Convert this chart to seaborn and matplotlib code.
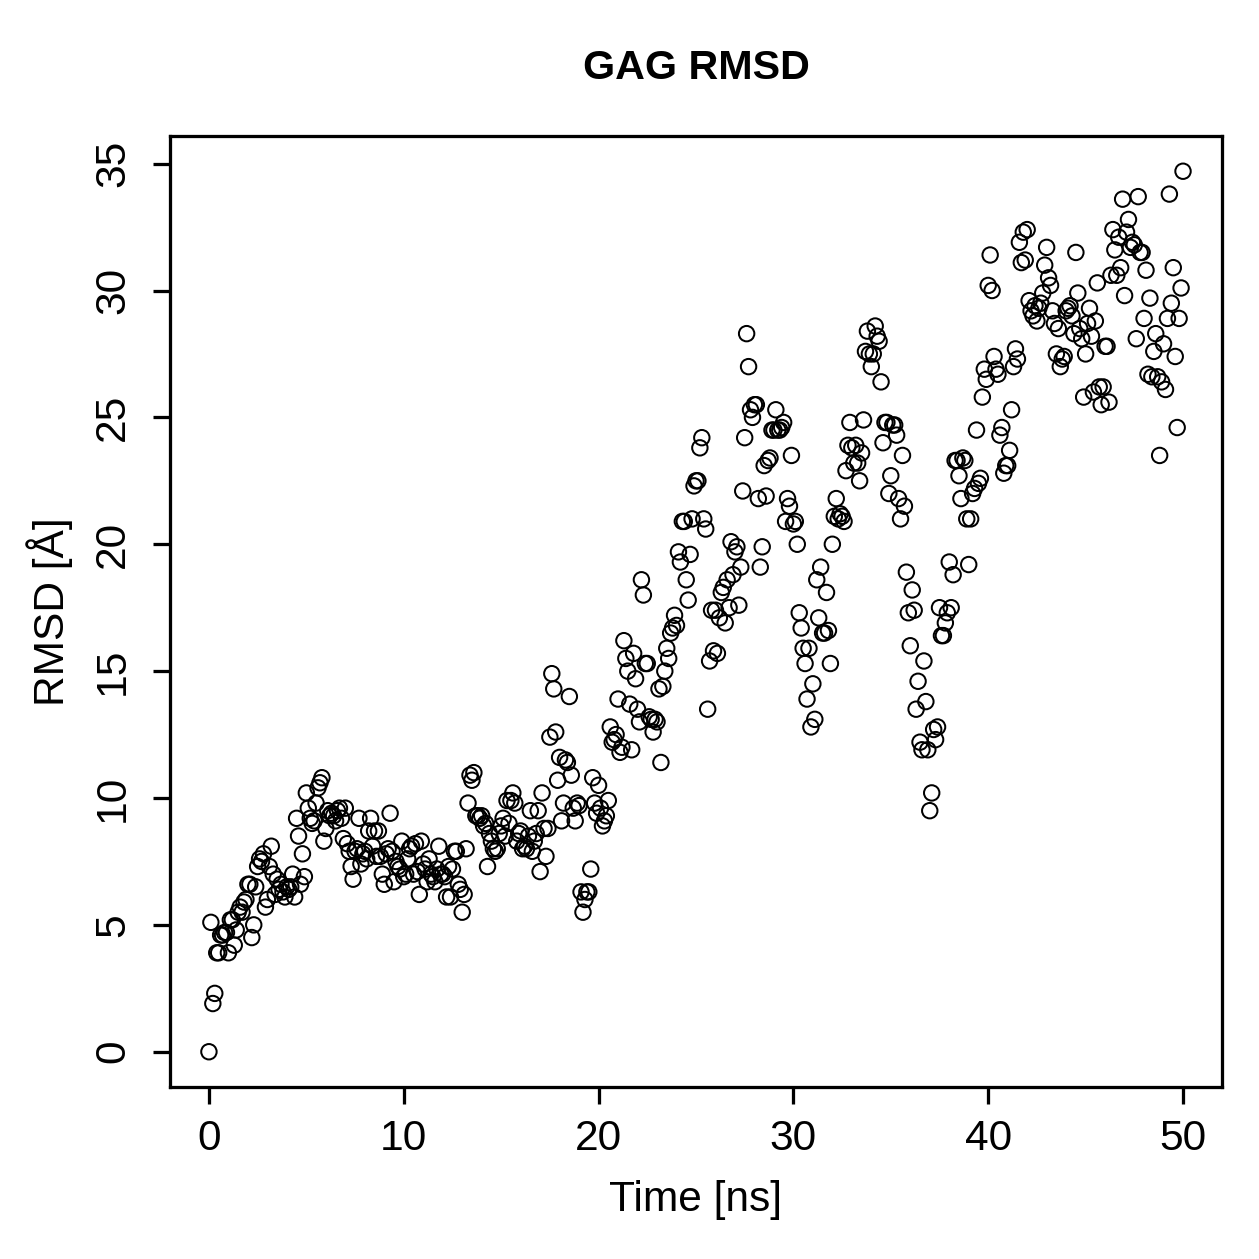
import numpy as np
import pandas as pd
import matplotlib.pyplot as plt
import seaborn as sns

# RMSD values (Angstrom), one frame every 0.1 ns
rmsd_00_10 = [
    0.0, 5.1, 1.9, 2.3, 3.9, 3.9, 4.6, 4.6, 4.7, 4.7,
    3.9, 5.2, 5.2, 4.2, 4.8, 5.5, 5.7, 5.5, 5.9, 6.0,
    6.6, 6.6, 4.5, 5.0, 6.5, 7.3, 7.6, 7.5, 7.8, 5.7,
    6.0, 7.3, 8.1, 7.0, 6.2, 6.8, 6.4, 6.6, 6.3, 6.1,
    6.5, 6.4, 6.5, 7.0, 6.1, 9.2, 8.5, 6.6, 7.8, 6.9,
    10.2, 9.6, 9.2, 9.0, 9.1, 9.8, 10.4, 10.6, 10.8, 8.3,
    8.8, 9.5, 9.3, 9.4, 9.3, 9.1, 9.5, 9.6, 9.2, 8.4,
    9.6, 8.2, 7.9, 7.3, 6.8, 7.9, 8.0, 9.2, 7.4, 7.8,
    7.9, 7.6, 8.7, 9.2, 8.1, 8.7, 7.7, 8.7, 7.7, 7.0,
    6.6, 7.8, 8.0, 9.4, 7.9, 6.7, 7.5, 7.3, 7.2, 8.3,
]
rmsd_10_20 = [
    6.9, 7.0, 7.6, 8.0, 8.1, 7.0, 8.2, 7.1, 6.2, 8.3,
    7.4, 7.2, 6.7, 7.6, 7.0, 6.9, 6.7, 7.2, 8.1, 7.0,
    7.0, 6.9, 6.1, 7.3, 6.1, 7.2, 7.9, 7.9, 6.6, 6.4,
    5.5, 6.2, 8.0, 9.8, 10.9, 10.7, 11.0, 9.3, 9.3, 9.2,
    9.3, 8.9, 9.0, 7.3, 8.6, 8.3, 8.0, 7.9, 8.0, 8.6,
    8.9, 9.2, 8.5, 9.9, 9.0, 9.9, 10.2, 9.8, 8.3, 8.6,
    8.7, 8.0, 8.1, 8.0, 8.5, 9.5, 7.9, 8.3, 8.6, 9.5,
    7.1, 10.2, 8.8, 7.7, 8.8, 12.4, 14.9, 14.3, 12.6, 10.7,
    11.6, 9.1, 9.8, 11.5, 11.4, 14.0, 10.9, 9.6, 9.1, 9.8,
    9.7, 6.3, 5.5, 6.0, 6.3, 6.3, 7.2, 10.8, 9.8, 9.4,
]
rmsd_20_30 = [
    10.5, 9.6, 8.9, 9.1, 9.3, 9.9, 12.8, 12.2, 12.3, 12.5,
    13.9, 11.8, 12.0, 16.2, 15.5, 15.0, 13.7, 11.9, 15.7, 14.7,
    13.5, 13.0, 18.6, 18.0, 15.3, 15.3, 13.2, 13.1, 12.6, 13.1,
    13.0, 14.3, 11.4, 14.4, 15.0, 15.9, 15.5, 16.5, 16.7, 17.2,
    16.8, 19.7, 19.3, 20.9, 20.9, 18.6, 17.8, 19.6, 21.0, 22.3,
    22.5, 22.5, 23.8, 24.2, 21.0, 20.6, 13.5, 15.4, 17.4, 15.8,
    17.4, 15.7, 17.1, 18.1, 18.3, 16.9, 18.6, 17.5, 20.1, 18.8,
    19.7, 19.9, 17.6, 19.1, 22.1, 24.2, 28.3, 27.0, 25.3, 25.0,
    25.5, 25.5, 21.8, 19.1, 19.9, 23.1, 21.9, 23.3, 23.4, 24.5,
    24.5, 25.3, 24.5, 24.5, 24.6, 24.8, 20.9, 21.8, 21.5, 23.5,
]
rmsd_30_40 = [
    20.8, 20.9, 20.0, 17.3, 16.7, 15.9, 15.3, 13.9, 15.9, 12.8,
    14.5, 13.1, 18.6, 17.1, 19.1, 16.5, 16.5, 18.1, 16.6, 15.3,
    20.0, 21.1, 21.8, 21.0, 21.2, 21.1, 20.9, 22.9, 23.9, 24.8,
    23.8, 23.2, 23.9, 23.2, 22.5, 23.6, 24.9, 27.6, 28.4, 27.5,
    27.0, 27.5, 28.6, 28.2, 28.0, 26.4, 24.0, 24.8, 24.8, 22.0,
    22.7, 24.7, 24.7, 24.3, 21.8, 21.0, 23.5, 21.5, 18.9, 17.3,
    16.0, 18.2, 17.4, 13.5, 14.6, 12.2, 11.9, 15.4, 13.8, 11.9,
    9.5, 10.2, 12.7, 12.3, 12.8, 17.5, 16.4, 16.4, 16.9, 17.3,
    19.3, 17.5, 18.8, 23.3, 23.3, 22.7, 21.8, 23.4, 23.3, 21.0,
    19.2, 21.0, 22.0, 22.2, 24.5, 22.4, 22.6, 25.8, 26.9, 26.5,
]
rmsd_40_50 = [
    30.2, 31.4, 30.0, 27.4, 26.9, 26.7, 24.3, 24.6, 22.8, 23.1,
    23.1, 23.7, 25.3, 27.0, 27.7, 27.3, 31.9, 31.1, 32.3, 31.2,
    32.4, 29.6, 29.2, 29.0, 29.4, 28.8, 29.3, 29.5, 29.9, 31.0,
    31.7, 30.5, 30.2, 29.2, 28.7, 27.5, 28.5, 27.0, 27.3, 27.4,
    29.2, 29.3, 29.4, 29.0, 28.3, 31.5, 29.9, 28.5, 28.1, 25.8,
    27.5, 28.7, 29.3, 28.2, 26.0, 28.8, 30.3, 26.2, 25.5, 26.2,
    27.8, 27.8, 25.6, 30.6, 32.4, 31.6, 30.6, 32.1, 30.9, 33.6,
    29.8, 32.3, 32.8, 31.7, 31.9, 31.8, 28.1, 33.7, 31.5, 31.5,
    28.9, 30.8, 26.7, 29.7, 26.6, 27.6, 28.3, 26.6, 23.5, 26.4,
    27.9, 26.1, 28.9, 33.8, 29.5, 30.9, 27.4, 24.6, 28.9, 30.1,
    34.7,
]

rmsd = rmsd_00_10 + rmsd_10_20 + rmsd_20_30 + rmsd_30_40 + rmsd_40_50
df = pd.DataFrame({"time": np.round(np.arange(len(rmsd)) * 0.1, 1), "rmsd": rmsd})

x_ticks = [0, 10, 20, 30, 40, 50]
y_ticks = [0, 5, 10, 15, 20, 25, 30, 35]

sns.set_style("ticks")
plt.rcParams["font.family"] = ["Liberation Sans", "DejaVu Sans"]
plt.rcParams["text.color"] = "black"
plt.rcParams["axes.labelcolor"] = "black"

fig = plt.figure(figsize=(1259 / 180, 1259 / 180), dpi=180)
ax = fig.add_axes([0.135, 0.1366, 0.8356, 0.7554])

sns.scatterplot(
    data=df, x="time", y="rmsd", ax=ax,
    marker="o", s=38, facecolor="none", edgecolor="black", linewidth=0.8,
)

ax.set_xlim(-2, 52)
ax.set_ylim(-1.39, 36.09)
ax.set_xticks(x_ticks)
ax.set_yticks(y_ticks)
ax.tick_params(axis="both", direction="out", length=6.8, width=1.3,
               labelsize=17, color="black", labelcolor="black")
ax.tick_params(axis="x", pad=6)
ax.tick_params(axis="y", pad=8)
for lab in ax.get_yticklabels():
    lab.set_rotation(90)
    lab.set_va("center")
for sp in ax.spines.values():
    sp.set_visible(True)
    sp.set_linewidth(1.3)
    sp.set_color("black")

ax.set_title("GAG RMSD", fontsize=16.5, fontweight="bold", y=1.0715, pad=0,
             va="center", color="black")
ax.set_xlabel("Time [ns]", fontsize=17)
ax.set_ylabel("RMSD [Å]", fontsize=17)
ax.xaxis.label.set_va("center")
ax.xaxis.set_label_coords(0.5, -0.119)
ax.yaxis.label.set_va("center")
ax.yaxis.set_label_coords(-0.114, 0.5)

fig.savefig("out.png", dpi=180, facecolor="white")
